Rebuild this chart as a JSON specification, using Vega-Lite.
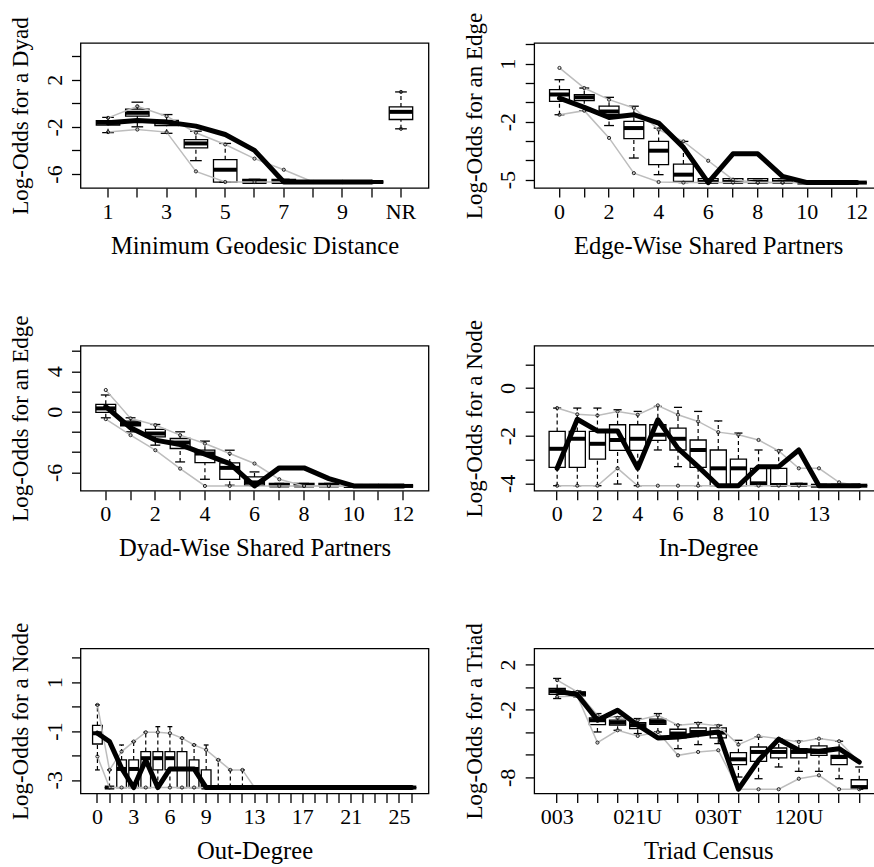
{
"$schema": "https://vega.github.io/schema/vega-lite/v6.json",
"background": "white",
"padding": {"left": 8.5, "top": 11, "right": 0, "bottom": 0},
"config": {
 "font": "Liberation Serif",
 "view": {"stroke": "black", "strokeWidth": 1.3},
 "tick": {"opacity": 1},
 "axis": {"labelFont": "Liberation Serif", "labelFontSize": 22, "labelColor": "black", "titleFont": "Liberation Serif", "titleFontSize": 24, "titleFontWeight": "normal", "titleColor": "black", "tickColor": "black", "tickWidth": 1.3, "tickSize": 9, "domain": false, "grid": false, "labelOverlap": false, "labelBound": false},
 "axisY": {"labelAngle": -90, "labelAlign": "center", "labelBaseline": "alphabetic", "labelPadding": 10.3, "titleAngle": -90, "titleX": -53, "titleBaseline": "alphabetic", "titleFontSize": 23, "tickCount": 50},
 "axisX": {"labelAngle": 0, "labelAlign": "center", "labelBaseline": "alphabetic", "labelPadding": 21, "titleY": 65, "titleBaseline": "alphabetic", "titleFontSize": 24.6}
},
"columns": 2,
"bounds": "flush",
"spacing": {"row": 157.7, "column": 105.7},
"concat": [
{
 "width": 348, "height": 145,
 "data": {"values": [
  {"c":"1","q1":-1.86,"q3":-1.47,"med":-1.66,"lo":-2.5,"hi":-1.2,"bl":-2.45,"bu":-1.24,"obs":-1.66},
  {"c":"2","q1":-1.09,"q3":-0.5,"med":-0.81,"lo":-2.0,"hi":0.09,"bl":-2.23,"bu":-0.25,"obs":-1.47},
  {"c":"3","q1":-1.9,"q3":-1.45,"med":-1.62,"lo":-2.55,"hi":-0.96,"bl":-2.45,"bu":-1.1,"obs":-1.6},
  {"c":"4","q1":-3.78,"q3":-3.08,"med":-3.41,"lo":-4.87,"hi":-2.37,"bl":-5.78,"bu":-2.5,"obs":-1.94},
  {"c":"5","q1":-6.7,"q3":-4.79,"med":-5.64,"lo":-6.7,"hi":-3.41,"bl":-6.68,"bu":-3.5,"obs":-2.65},
  {"c":"6","q1":-6.75,"q3":-6.45,"med":-6.68,"lo":-6.75,"hi":-6.45,"bl":-6.68,"bu":-4.7,"obs":-4.0},
  {"c":"7","q1":-6.75,"q3":-6.45,"med":-6.68,"lo":-6.75,"hi":-6.45,"bl":-6.68,"bu":-5.64,"obs":-6.68},
  {"c":"8","q1":-6.68,"q3":-6.68,"med":-6.68,"lo":-6.68,"hi":-6.68,"bl":-6.68,"bu":-6.68,"obs":-6.68},
  {"c":"9","q1":-6.68,"q3":-6.68,"med":-6.68,"lo":-6.68,"hi":-6.68,"bl":-6.68,"bu":-6.68,"obs":-6.68},
  {"c":"10","q1":-6.68,"q3":-6.68,"med":-6.68,"lo":-6.68,"hi":-6.68,"bl":-6.68,"bu":-6.68,"obs":-6.68},
  {"c":"NR","q1":-1.38,"q3":-0.31,"med":-0.73,"lo":-2.17,"hi":0.96,"bl":-2.17,"bu":0.96,"obs":-0.73}
 ]},
 "encoding": {"x": {"field": "c", "type": "ordinal", "scale": {"domain": ["1","2","3","4","5","6","7","8","9","10","NR"], "paddingInner": 0.2, "paddingOuter": 0.54}, "axis": {"title": "Minimum Geodesic Distance", "labelOverlap": false, "labelExpr": "indexof(['1','3','5','7','9','NR'], datum.label) >= 0 ? datum.label : ''"}}},
 "layer": [
  {"mark": {"type": "bar", "fill": "white", "stroke": "black", "strokeWidth": 1.3}, "encoding": {"y": {"field": "q1", "type": "quantitative", "scale": {"domain": [-7.19, 5.11], "nice": false, "zero": false}, "axis": {"title": "Log-Odds for a Dyad", "labelOverlap": false, "tickCount": 50, "values": [-6,-4,-2,0,2,4], "labelExpr": "indexof([-6,-2,2], datum.value) >= 0 ? '' + datum.value : ''"}}, "y2": {"field": "q3"}}},
  {"mark": {"type": "rule", "color": "black", "strokeWidth": 1.2, "strokeDash": [4,3]}, "encoding": {"y": {"field": "q3", "type": "quantitative"}, "y2": {"field": "hi"}}},
  {"mark": {"type": "rule", "color": "black", "strokeWidth": 1.2, "strokeDash": [4,3]}, "encoding": {"y": {"field": "lo", "type": "quantitative"}, "y2": {"field": "q1"}}},
  {"mark": {"type": "tick", "color": "black", "opacity": 1, "size": 11.7, "thickness": 1.3}, "encoding": {"y": {"field": "hi", "type": "quantitative"}}},
  {"mark": {"type": "tick", "color": "black", "opacity": 1, "size": 11.7, "thickness": 1.3}, "encoding": {"y": {"field": "lo", "type": "quantitative"}}},
  {"mark": {"type": "tick", "color": "black", "opacity": 1, "size": 23.4, "thickness": 4}, "encoding": {"y": {"field": "med", "type": "quantitative"}}},
  {"transform": [{"filter": "datum.c != 'NR'"}], "mark": {"type": "line", "color": "#bdbdbd", "strokeWidth": 1.5}, "encoding": {"y": {"field": "bu", "type": "quantitative"}}},
  {"transform": [{"filter": "datum.c != 'NR'"}], "mark": {"type": "line", "color": "#bdbdbd", "strokeWidth": 1.5}, "encoding": {"y": {"field": "bl", "type": "quantitative"}}},
  {"mark": {"type": "point", "shape": "circle", "size": 10, "filled": false, "color": "#222222", "strokeWidth": 1, "opacity": 1}, "encoding": {"y": {"field": "bu", "type": "quantitative"}}},
  {"mark": {"type": "point", "shape": "circle", "size": 10, "filled": false, "color": "#222222", "strokeWidth": 1, "opacity": 1}, "encoding": {"y": {"field": "bl", "type": "quantitative"}}},
  {"transform": [{"filter": "datum.c != 'NR'"}], "mark": {"type": "line", "color": "black", "strokeWidth": 5, "strokeCap": "round", "strokeJoin": "round"}, "encoding": {"y": {"field": "obs", "type": "quantitative"}}}
 ]
},
{
 "width": 348, "height": 145,
 "data": {"values": [
  {"c":"0","q1":-0.95,"q3":-0.34,"med":-0.6,"lo":-1.64,"hi":0.17,"bl":-1.64,"bu":0.78,"obs":-0.78},
  {"c":"1","q1":-0.91,"q3":-0.6,"med":-0.74,"lo":-1.43,"hi":-0.26,"bl":-1.43,"bu":-0.26,"obs":-1.26},
  {"c":"2","q1":-1.64,"q3":-1.2,"med":-1.47,"lo":-2.2,"hi":-0.74,"bl":-2.84,"bu":-0.86,"obs":-1.78},
  {"c":"3","q1":-2.88,"q3":-1.98,"med":-2.33,"lo":-3.88,"hi":-1.2,"bl":-4.66,"bu":-1.29,"obs":-1.64},
  {"c":"4","q1":-4.22,"q3":-3.02,"med":-3.5,"lo":-4.74,"hi":-2.33,"bl":-5.12,"bu":-2.41,"obs":-2.07},
  {"c":"5","q1":-5.09,"q3":-4.19,"med":-4.74,"lo":-5.15,"hi":-3.02,"bl":-5.15,"bu":-3.02,"obs":-3.33},
  {"c":"6","q1":-5.15,"q3":-4.95,"med":-5.12,"lo":-5.15,"hi":-4.95,"bl":-5.15,"bu":-4.02,"obs":-5.15},
  {"c":"7","q1":-5.15,"q3":-4.95,"med":-5.12,"lo":-5.15,"hi":-4.95,"bl":-5.15,"bu":-5.0,"obs":-3.66},
  {"c":"8","q1":-5.15,"q3":-4.95,"med":-5.12,"lo":-5.15,"hi":-4.95,"bl":-5.15,"bu":-5.15,"obs":-3.66},
  {"c":"9","q1":-5.15,"q3":-4.95,"med":-5.12,"lo":-5.15,"hi":-4.95,"bl":-5.15,"bu":-5.15,"obs":-4.83},
  {"c":"10","q1":-5.15,"q3":-5.15,"med":-5.15,"lo":-5.15,"hi":-5.15,"bl":-5.15,"bu":-5.15,"obs":-5.15},
  {"c":"11","q1":-5.15,"q3":-5.15,"med":-5.15,"lo":-5.15,"hi":-5.15,"bl":-5.15,"bu":-5.15,"obs":-5.15},
  {"c":"12","q1":-5.15,"q3":-5.15,"med":-5.15,"lo":-5.15,"hi":-5.15,"bl":-5.15,"bu":-5.15,"obs":-5.15}
 ]},
 "encoding": {"x": {"field": "c", "type": "ordinal", "scale": {"domain": ["0","1","2","3","4","5","6","7","8","9","10","11","12"], "paddingInner": 0.2, "paddingOuter": 0.62}, "axis": {"title": "Edge-Wise Shared Partners", "labelOverlap": false, "labelExpr": "indexof(['0','2','4','6','8','10','12'], datum.label) >= 0 ? datum.label : ''"}}},
 "layer": [
  {"mark": {"type": "bar", "fill": "white", "stroke": "black", "strokeWidth": 1.3}, "encoding": {"y": {"field": "q1", "type": "quantitative", "scale": {"domain": [-5.43, 2.07], "nice": false, "zero": false}, "axis": {"title": "Log-Odds for an Edge", "labelOverlap": false, "tickCount": 50, "values": [-5,-4,-3,-2,-1,0,1,2], "labelExpr": "indexof([-5,-2,1], datum.value) >= 0 ? '' + datum.value : ''"}}, "y2": {"field": "q3"}}},
  {"mark": {"type": "rule", "color": "black", "strokeWidth": 1.2, "strokeDash": [4,3]}, "encoding": {"y": {"field": "q3", "type": "quantitative"}, "y2": {"field": "hi"}}},
  {"mark": {"type": "rule", "color": "black", "strokeWidth": 1.2, "strokeDash": [4,3]}, "encoding": {"y": {"field": "lo", "type": "quantitative"}, "y2": {"field": "q1"}}},
  {"mark": {"type": "tick", "color": "black", "opacity": 1, "size": 9.9, "thickness": 1.3}, "encoding": {"y": {"field": "hi", "type": "quantitative"}}},
  {"mark": {"type": "tick", "color": "black", "opacity": 1, "size": 9.9, "thickness": 1.3}, "encoding": {"y": {"field": "lo", "type": "quantitative"}}},
  {"mark": {"type": "tick", "color": "black", "opacity": 1, "size": 19.8, "thickness": 4}, "encoding": {"y": {"field": "med", "type": "quantitative"}}},
  {"mark": {"type": "line", "color": "#bdbdbd", "strokeWidth": 1.5}, "encoding": {"y": {"field": "bu", "type": "quantitative"}}},
  {"mark": {"type": "line", "color": "#bdbdbd", "strokeWidth": 1.5}, "encoding": {"y": {"field": "bl", "type": "quantitative"}}},
  {"mark": {"type": "point", "shape": "circle", "size": 10, "filled": false, "color": "#222222", "strokeWidth": 1, "opacity": 1}, "encoding": {"y": {"field": "bu", "type": "quantitative"}}},
  {"mark": {"type": "point", "shape": "circle", "size": 10, "filled": false, "color": "#222222", "strokeWidth": 1, "opacity": 1}, "encoding": {"y": {"field": "bl", "type": "quantitative"}}},
  {"mark": {"type": "line", "color": "black", "strokeWidth": 5, "strokeCap": "round", "strokeJoin": "round"}, "encoding": {"y": {"field": "obs", "type": "quantitative"}}}
 ]
},
{
 "width": 348, "height": 145,
 "data": {"values": [
  {"c":"0","q1":-0.07,"q3":0.73,"med":0.33,"lo":-0.6,"hi":1.66,"bl":-0.73,"bu":2.15,"obs":0.5},
  {"c":"1","q1":-1.39,"q3":-0.93,"med":-1.16,"lo":-1.99,"hi":-0.6,"bl":-2.32,"bu":-0.66,"obs":-1.59},
  {"c":"2","q1":-2.48,"q3":-1.75,"med":-2.15,"lo":-3.31,"hi":-1.26,"bl":-3.81,"bu":-1.32,"obs":-2.81},
  {"c":"3","q1":-3.64,"q3":-2.65,"med":-3.05,"lo":-4.97,"hi":-1.99,"bl":-5.63,"bu":-2.32,"obs":-3.25},
  {"c":"4","q1":-5.03,"q3":-3.81,"med":-4.14,"lo":-6.69,"hi":-2.91,"bl":-7.35,"bu":-3.15,"obs":-4.2},
  {"c":"5","q1":-6.69,"q3":-5.07,"med":-5.56,"lo":-7.28,"hi":-3.81,"bl":-7.35,"bu":-4.14,"obs":-5.13},
  {"c":"6","q1":-7.28,"q3":-6.46,"med":-7.0,"lo":-7.35,"hi":-5.96,"bl":-7.35,"bu":-5.13,"obs":-7.35},
  {"c":"7","q1":-7.35,"q3":-7.1,"med":-7.3,"lo":-7.35,"hi":-7.1,"bl":-7.35,"bu":-6.69,"obs":-5.56},
  {"c":"8","q1":-7.35,"q3":-7.1,"med":-7.3,"lo":-7.35,"hi":-7.1,"bl":-7.35,"bu":-7.35,"obs":-5.56},
  {"c":"9","q1":-7.35,"q3":-7.1,"med":-7.3,"lo":-7.35,"hi":-7.1,"bl":-7.35,"bu":-7.35,"obs":-6.62},
  {"c":"10","q1":-7.35,"q3":-7.35,"med":-7.35,"lo":-7.35,"hi":-7.35,"bl":-7.35,"bu":-7.35,"obs":-7.35},
  {"c":"11","q1":-7.35,"q3":-7.35,"med":-7.35,"lo":-7.35,"hi":-7.35,"bl":-7.35,"bu":-7.35,"obs":-7.35},
  {"c":"12","q1":-7.35,"q3":-7.35,"med":-7.35,"lo":-7.35,"hi":-7.35,"bl":-7.35,"bu":-7.35,"obs":-7.35}
 ]},
 "encoding": {"x": {"field": "c", "type": "ordinal", "scale": {"domain": ["0","1","2","3","4","5","6","7","8","9","10","11","12"], "paddingInner": 0.2, "paddingOuter": 0.62}, "axis": {"title": "Dyad-Wise Shared Partners", "labelOverlap": false, "labelExpr": "indexof(['0','2','4','6','8','10','12'], datum.label) >= 0 ? datum.label : ''"}}},
 "layer": [
  {"mark": {"type": "bar", "fill": "white", "stroke": "black", "strokeWidth": 1.3}, "encoding": {"y": {"field": "q1", "type": "quantitative", "scale": {"domain": [-7.82, 6.54], "nice": false, "zero": false}, "axis": {"title": "Log-Odds for an Edge", "labelOverlap": false, "tickCount": 50, "values": [-6,-4,-2,0,2,4,6], "labelExpr": "indexof([-6,0,4], datum.value) >= 0 ? '' + datum.value : ''"}}, "y2": {"field": "q3"}}},
  {"mark": {"type": "rule", "color": "black", "strokeWidth": 1.2, "strokeDash": [4,3]}, "encoding": {"y": {"field": "q3", "type": "quantitative"}, "y2": {"field": "hi"}}},
  {"mark": {"type": "rule", "color": "black", "strokeWidth": 1.2, "strokeDash": [4,3]}, "encoding": {"y": {"field": "lo", "type": "quantitative"}, "y2": {"field": "q1"}}},
  {"mark": {"type": "tick", "color": "black", "opacity": 1, "size": 9.9, "thickness": 1.3}, "encoding": {"y": {"field": "hi", "type": "quantitative"}}},
  {"mark": {"type": "tick", "color": "black", "opacity": 1, "size": 9.9, "thickness": 1.3}, "encoding": {"y": {"field": "lo", "type": "quantitative"}}},
  {"mark": {"type": "tick", "color": "black", "opacity": 1, "size": 19.8, "thickness": 4}, "encoding": {"y": {"field": "med", "type": "quantitative"}}},
  {"mark": {"type": "line", "color": "#bdbdbd", "strokeWidth": 1.5}, "encoding": {"y": {"field": "bu", "type": "quantitative"}}},
  {"mark": {"type": "line", "color": "#bdbdbd", "strokeWidth": 1.5}, "encoding": {"y": {"field": "bl", "type": "quantitative"}}},
  {"mark": {"type": "point", "shape": "circle", "size": 10, "filled": false, "color": "#222222", "strokeWidth": 1, "opacity": 1}, "encoding": {"y": {"field": "bu", "type": "quantitative"}}},
  {"mark": {"type": "point", "shape": "circle", "size": 10, "filled": false, "color": "#222222", "strokeWidth": 1, "opacity": 1}, "encoding": {"y": {"field": "bl", "type": "quantitative"}}},
  {"mark": {"type": "line", "color": "black", "strokeWidth": 5, "strokeCap": "round", "strokeJoin": "round"}, "encoding": {"y": {"field": "obs", "type": "quantitative"}}}
 ]
},
{
 "width": 348, "height": 145,
 "data": {"values": [
  {"c":"0","q1":-3.33,"q3":-1.82,"med":-2.55,"lo":-4.1,"hi":-0.84,"bl":-4.1,"bu":-0.84,"obs":-3.37},
  {"c":"1","q1":-3.33,"q3":-1.82,"med":-2.13,"lo":-4.1,"hi":-0.84,"bl":-4.1,"bu":-1.1,"obs":-1.31},
  {"c":"2","q1":-2.98,"q3":-1.82,"med":-2.34,"lo":-4.1,"hi":-0.84,"bl":-4.1,"bu":-1.15,"obs":-1.8},
  {"c":"3","q1":-2.62,"q3":-1.54,"med":-2.18,"lo":-4.03,"hi":-0.91,"bl":-3.37,"bu":-0.98,"obs":-1.8},
  {"c":"4","q1":-2.62,"q3":-1.54,"med":-2.13,"lo":-4.1,"hi":-0.98,"bl":-4.1,"bu":-1.12,"obs":-3.37},
  {"c":"5","q1":-2.2,"q3":-1.54,"med":-1.96,"lo":-2.6,"hi":-0.77,"bl":-4.1,"bu":-0.73,"obs":-1.33},
  {"c":"6","q1":-2.6,"q3":-1.68,"med":-2.13,"lo":-3.3,"hi":-0.81,"bl":-4.1,"bu":-1.12,"obs":-2.53},
  {"c":"7","q1":-3.33,"q3":-2.18,"med":-2.6,"lo":-4.1,"hi":-0.98,"bl":-4.1,"bu":-1.4,"obs":-3.3},
  {"c":"8","q1":-4.1,"q3":-2.6,"med":-3.37,"lo":-4.1,"hi":-1.38,"bl":-4.1,"bu":-1.85,"obs":-4.1},
  {"c":"9","q1":-4.1,"q3":-2.98,"med":-3.37,"lo":-4.1,"hi":-1.89,"bl":-4.1,"bu":-1.96,"obs":-4.1},
  {"c":"10","q1":-4.07,"q3":-3.37,"med":-4.0,"lo":-4.1,"hi":-2.6,"bl":-4.1,"bu":-2.18,"obs":-3.3},
  {"c":"11","q1":-4.07,"q3":-3.37,"med":-4.07,"lo":-4.1,"hi":-2.6,"bl":-4.1,"bu":-2.64,"obs":-3.3},
  {"c":"12","q1":-4.1,"q3":-4.0,"med":-4.07,"lo":-4.1,"hi":-4.0,"bl":-4.1,"bu":-3.37,"obs":-2.6},
  {"c":"13","q1":-4.1,"q3":-4.1,"med":-4.1,"lo":-4.1,"hi":-4.1,"bl":-4.1,"bu":-3.37,"obs":-4.1},
  {"c":"14","q1":-4.1,"q3":-4.1,"med":-4.1,"lo":-4.1,"hi":-4.1,"bl":-4.1,"bu":-3.96,"obs":-4.1},
  {"c":"15","q1":-4.1,"q3":-4.1,"med":-4.1,"lo":-4.1,"hi":-4.1,"bl":-4.1,"bu":-4.1,"obs":-4.1}
 ]},
 "encoding": {"x": {"field": "c", "type": "ordinal", "scale": {"domain": ["0","1","2","3","4","5","6","7","8","9","10","11","12","13","14","15"], "paddingInner": 0.2, "paddingOuter": 0.74}, "axis": {"title": "In-Degree", "labelOverlap": false, "labelExpr": "indexof(['0','2','4','6','8','10','13'], datum.label) >= 0 ? datum.label : ''"}}},
 "layer": [
  {"mark": {"type": "bar", "fill": "white", "stroke": "black", "strokeWidth": 1.3}, "encoding": {"y": {"field": "q1", "type": "quantitative", "scale": {"domain": [-4.31, 1.78], "nice": false, "zero": false}, "axis": {"title": "Log-Odds for a Node", "labelOverlap": false, "tickCount": 50, "values": [-4,-3,-2,-1,0,1], "labelExpr": "indexof([-4,-2,0], datum.value) >= 0 ? '' + datum.value : ''"}}, "y2": {"field": "q3"}}},
  {"mark": {"type": "rule", "color": "black", "strokeWidth": 1.2, "strokeDash": [4,3]}, "encoding": {"y": {"field": "q3", "type": "quantitative"}, "y2": {"field": "hi"}}},
  {"mark": {"type": "rule", "color": "black", "strokeWidth": 1.2, "strokeDash": [4,3]}, "encoding": {"y": {"field": "lo", "type": "quantitative"}, "y2": {"field": "q1"}}},
  {"mark": {"type": "tick", "color": "black", "opacity": 1, "size": 8.1, "thickness": 1.3}, "encoding": {"y": {"field": "hi", "type": "quantitative"}}},
  {"mark": {"type": "tick", "color": "black", "opacity": 1, "size": 8.1, "thickness": 1.3}, "encoding": {"y": {"field": "lo", "type": "quantitative"}}},
  {"mark": {"type": "tick", "color": "black", "opacity": 1, "size": 16.1, "thickness": 4}, "encoding": {"y": {"field": "med", "type": "quantitative"}}},
  {"mark": {"type": "line", "color": "#bdbdbd", "strokeWidth": 1.5}, "encoding": {"y": {"field": "bu", "type": "quantitative"}}},
  {"mark": {"type": "line", "color": "#bdbdbd", "strokeWidth": 1.5}, "encoding": {"y": {"field": "bl", "type": "quantitative"}}},
  {"mark": {"type": "point", "shape": "circle", "size": 10, "filled": false, "color": "#222222", "strokeWidth": 1, "opacity": 1}, "encoding": {"y": {"field": "bu", "type": "quantitative"}}},
  {"mark": {"type": "point", "shape": "circle", "size": 10, "filled": false, "color": "#222222", "strokeWidth": 1, "opacity": 1}, "encoding": {"y": {"field": "bl", "type": "quantitative"}}},
  {"mark": {"type": "line", "color": "black", "strokeWidth": 5, "strokeCap": "round", "strokeJoin": "round"}, "encoding": {"y": {"field": "obs", "type": "quantitative"}}}
 ]
},
{
 "width": 348, "height": 145,
 "data": {"values": [
  {"c":"0","q1":-1.53,"q3":-0.77,"med":-1.09,"lo":-2.59,"hi":0.07,"bl":-2.04,"bu":0.07,"obs":-1.09},
  {"c":"1","q1":-3.31,"q3":-3.31,"med":-3.31,"lo":-3.31,"hi":-2.59,"bl":-3.31,"bu":-2.59,"obs":-1.43},
  {"c":"2","q1":-3.31,"q3":-2.18,"med":-2.55,"lo":-3.31,"hi":-1.57,"bl":-3.31,"bu":-1.84,"obs":-2.52},
  {"c":"3","q1":-3.31,"q3":-2.18,"med":-2.55,"lo":-3.31,"hi":-1.43,"bl":-3.31,"bu":-1.43,"obs":-3.31},
  {"c":"4","q1":-3.31,"q3":-1.84,"med":-2.11,"lo":-3.31,"hi":-1.05,"bl":-3.31,"bu":-1.05,"obs":-2.18},
  {"c":"5","q1":-2.59,"q3":-1.84,"med":-2.11,"lo":-3.31,"hi":-0.82,"bl":-3.31,"bu":-1.05,"obs":-3.31},
  {"c":"6","q1":-2.59,"q3":-1.84,"med":-2.11,"lo":-3.31,"hi":-0.82,"bl":-3.31,"bu":-1.09,"obs":-2.55},
  {"c":"7","q1":-3.31,"q3":-1.84,"med":-2.55,"lo":-3.31,"hi":-1.29,"bl":-3.31,"bu":-1.29,"obs":-2.55},
  {"c":"8","q1":-3.31,"q3":-2.18,"med":-2.55,"lo":-3.31,"hi":-1.57,"bl":-3.31,"bu":-1.57,"obs":-2.55},
  {"c":"9","q1":-3.31,"q3":-2.59,"med":-3.31,"lo":-3.31,"hi":-1.57,"bl":-3.31,"bu":-1.77,"obs":-3.31},
  {"c":"10","q1":-3.31,"q3":-3.31,"med":-3.31,"lo":-3.31,"hi":-2.18,"bl":-3.31,"bu":-2.18,"obs":-3.31},
  {"c":"11","q1":-3.31,"q3":-3.31,"med":-3.31,"lo":-3.31,"hi":-2.59,"bl":-3.31,"bu":-2.59,"obs":-3.31},
  {"c":"12","q1":-3.31,"q3":-3.31,"med":-3.31,"lo":-3.31,"hi":-2.59,"bl":-3.31,"bu":-2.59,"obs":-3.31},
  {"c":"13","q1":-3.31,"q3":-3.31,"med":-3.31,"lo":-3.31,"hi":-3.31,"bl":-3.31,"bu":-3.31,"obs":-3.31},
  {"c":"14","q1":-3.31,"q3":-3.31,"med":-3.31,"lo":-3.31,"hi":-3.31,"bl":-3.31,"bu":-3.31,"obs":-3.31},
  {"c":"15","q1":-3.31,"q3":-3.31,"med":-3.31,"lo":-3.31,"hi":-3.31,"bl":-3.31,"bu":-3.31,"obs":-3.31},
  {"c":"16","q1":-3.31,"q3":-3.31,"med":-3.31,"lo":-3.31,"hi":-3.31,"bl":-3.31,"bu":-3.31,"obs":-3.31},
  {"c":"17","q1":-3.31,"q3":-3.31,"med":-3.31,"lo":-3.31,"hi":-3.31,"bl":-3.31,"bu":-3.31,"obs":-3.31},
  {"c":"18","q1":-3.31,"q3":-3.31,"med":-3.31,"lo":-3.31,"hi":-3.31,"bl":-3.31,"bu":-3.31,"obs":-3.31},
  {"c":"19","q1":-3.31,"q3":-3.31,"med":-3.31,"lo":-3.31,"hi":-3.31,"bl":-3.31,"bu":-3.31,"obs":-3.31},
  {"c":"20","q1":-3.31,"q3":-3.31,"med":-3.31,"lo":-3.31,"hi":-3.31,"bl":-3.31,"bu":-3.31,"obs":-3.31},
  {"c":"21","q1":-3.31,"q3":-3.31,"med":-3.31,"lo":-3.31,"hi":-3.31,"bl":-3.31,"bu":-3.31,"obs":-3.31},
  {"c":"22","q1":-3.31,"q3":-3.31,"med":-3.31,"lo":-3.31,"hi":-3.31,"bl":-3.31,"bu":-3.31,"obs":-3.31},
  {"c":"23","q1":-3.31,"q3":-3.31,"med":-3.31,"lo":-3.31,"hi":-3.31,"bl":-3.31,"bu":-3.31,"obs":-3.31},
  {"c":"24","q1":-3.31,"q3":-3.31,"med":-3.31,"lo":-3.31,"hi":-3.31,"bl":-3.31,"bu":-3.31,"obs":-3.31},
  {"c":"25","q1":-3.31,"q3":-3.31,"med":-3.31,"lo":-3.31,"hi":-3.31,"bl":-3.31,"bu":-3.31,"obs":-3.31},
  {"c":"26","q1":-3.31,"q3":-3.31,"med":-3.31,"lo":-3.31,"hi":-3.31,"bl":-3.31,"bu":-3.31,"obs":-3.31}
 ]},
 "encoding": {"x": {"field": "c", "type": "ordinal", "scale": {"domain": ["0","1","2","3","4","5","6","7","8","9","10","11","12","13","14","15","16","17","18","19","20","21","22","23","24","25","26"], "paddingInner": 0.2, "paddingOuter": 1.18}, "axis": {"title": "Out-Degree", "labelOverlap": false, "labelExpr": "indexof(['0','3','6','9','13','17','21','25'], datum.label) >= 0 ? datum.label : ''"}}},
 "layer": [
  {"mark": {"type": "bar", "fill": "white", "stroke": "black", "strokeWidth": 1.3}, "encoding": {"y": {"field": "q1", "type": "quantitative", "scale": {"domain": [-3.55, 2.38], "nice": false, "zero": false}, "axis": {"title": "Log-Odds for a Node", "labelOverlap": false, "tickCount": 50, "values": [-3,-2,-1,0,1,2], "labelExpr": "indexof([-3,-1,1], datum.value) >= 0 ? '' + datum.value : ''"}}, "y2": {"field": "q3"}}},
  {"mark": {"type": "rule", "color": "black", "strokeWidth": 1.2, "strokeDash": [4,3]}, "encoding": {"y": {"field": "q3", "type": "quantitative"}, "y2": {"field": "hi"}}},
  {"mark": {"type": "rule", "color": "black", "strokeWidth": 1.2, "strokeDash": [4,3]}, "encoding": {"y": {"field": "lo", "type": "quantitative"}, "y2": {"field": "q1"}}},
  {"mark": {"type": "tick", "color": "black", "opacity": 1, "size": 4.8, "thickness": 1.3}, "encoding": {"y": {"field": "hi", "type": "quantitative"}}},
  {"mark": {"type": "tick", "color": "black", "opacity": 1, "size": 4.8, "thickness": 1.3}, "encoding": {"y": {"field": "lo", "type": "quantitative"}}},
  {"mark": {"type": "tick", "color": "black", "opacity": 1, "size": 9.5, "thickness": 4}, "encoding": {"y": {"field": "med", "type": "quantitative"}}},
  {"mark": {"type": "line", "color": "#bdbdbd", "strokeWidth": 1.5}, "encoding": {"y": {"field": "bu", "type": "quantitative"}}},
  {"mark": {"type": "line", "color": "#bdbdbd", "strokeWidth": 1.5}, "encoding": {"y": {"field": "bl", "type": "quantitative"}}},
  {"mark": {"type": "point", "shape": "circle", "size": 10, "filled": false, "color": "#222222", "strokeWidth": 1, "opacity": 1}, "encoding": {"y": {"field": "bu", "type": "quantitative"}}},
  {"mark": {"type": "point", "shape": "circle", "size": 10, "filled": false, "color": "#222222", "strokeWidth": 1, "opacity": 1}, "encoding": {"y": {"field": "bl", "type": "quantitative"}}},
  {"mark": {"type": "line", "color": "black", "strokeWidth": 5, "strokeCap": "round", "strokeJoin": "round"}, "encoding": {"y": {"field": "obs", "type": "quantitative"}}}
 ]
},
{
 "width": 348, "height": 145,
 "data": {"values": [
  {"c":"003","q1":-0.66,"q3":-0.13,"med":-0.37,"lo":-1.02,"hi":0.76,"bl":-0.87,"bu":0.61,"obs":-0.37},
  {"c":"012","q1":-0.78,"q3":-0.43,"med":-0.57,"lo":-0.87,"hi":-0.35,"bl":-0.8,"bu":-0.43,"obs":-0.66},
  {"c":"102","q1":-3.33,"q3":-2.73,"med":-2.94,"lo":-3.98,"hi":-2.35,"bl":-4.92,"bu":-2.5,"obs":-2.94},
  {"c":"021D","q1":-3.38,"q3":-2.94,"med":-3.15,"lo":-3.83,"hi":-2.64,"bl":-3.83,"bu":-2.73,"obs":-2.05},
  {"c":"021U","q1":-3.68,"q3":-3.15,"med":-3.38,"lo":-4.12,"hi":-2.79,"bl":-4.33,"bu":-2.94,"obs":-3.38},
  {"c":"021C","q1":-3.3,"q3":-2.85,"med":-3.09,"lo":-3.98,"hi":-2.35,"bl":-3.98,"bu":-2.5,"obs":-4.51},
  {"c":"111D","q1":-4.51,"q3":-3.74,"med":-4.12,"lo":-5.46,"hi":-3.33,"bl":-6.05,"bu":-3.38,"obs":-4.42},
  {"c":"111U","q1":-4.27,"q3":-3.62,"med":-3.98,"lo":-5.1,"hi":-3.15,"bl":-5.75,"bu":-3.24,"obs":-4.21},
  {"c":"030T","q1":-4.51,"q3":-3.62,"med":-4.04,"lo":-5.01,"hi":-3.38,"bl":-5.6,"bu":-3.44,"obs":-3.98},
  {"c":"030C","q1":-6.88,"q3":-5.81,"med":-6.4,"lo":-7.97,"hi":-4.72,"bl":-9.05,"bu":-5.1,"obs":-9.05},
  {"c":"201","q1":-6.58,"q3":-5.31,"med":-5.75,"lo":-8.12,"hi":-4.42,"bl":-9.05,"bu":-4.33,"obs":-6.49},
  {"c":"120D","q1":-6.28,"q3":-5.4,"med":-5.75,"lo":-7.08,"hi":-4.57,"bl":-9.05,"bu":-4.57,"obs":-4.63},
  {"c":"120U","q1":-6.28,"q3":-5.46,"med":-5.75,"lo":-7.47,"hi":-4.8,"bl":-8.12,"bu":-4.86,"obs":-5.6},
  {"c":"120C","q1":-6.05,"q3":-5.22,"med":-5.75,"lo":-7.47,"hi":-4.57,"bl":-7.82,"bu":-4.57,"obs":-5.69},
  {"c":"210","q1":-6.88,"q3":-6.05,"med":-6.2,"lo":-8.12,"hi":-4.8,"bl":-9.05,"bu":-4.8,"obs":-5.46},
  {"c":"300","q1":-9.0,"q3":-8.21,"med":-8.86,"lo":-9.05,"hi":-7.08,"bl":-9.05,"bu":-6.64,"obs":-6.64}
 ]},
 "encoding": {"x": {"field": "c", "type": "ordinal", "scale": {"domain": ["003","012","102","021D","021U","021C","111D","111U","030T","030C","201","120D","120U","120C","210","300"], "paddingInner": 0.2, "paddingOuter": 0.74}, "axis": {"title": "Triad Census", "labelOverlap": false, "labelExpr": "indexof(['003','021U','030T','120U'], datum.label) >= 0 ? datum.label : ''"}}},
 "layer": [
  {"mark": {"type": "bar", "fill": "white", "stroke": "black", "strokeWidth": 1.3}, "encoding": {"y": {"field": "q1", "type": "quantitative", "scale": {"domain": [-9.42, 3.42], "nice": false, "zero": false}, "axis": {"title": "Log-Odds for a Triad", "labelOverlap": false, "tickCount": 50, "values": [-8,-6,-4,-2,0,2], "labelExpr": "indexof([-8,-2,2], datum.value) >= 0 ? '' + datum.value : ''"}}, "y2": {"field": "q3"}}},
  {"mark": {"type": "rule", "color": "black", "strokeWidth": 1.2, "strokeDash": [4,3]}, "encoding": {"y": {"field": "q3", "type": "quantitative"}, "y2": {"field": "hi"}}},
  {"mark": {"type": "rule", "color": "black", "strokeWidth": 1.2, "strokeDash": [4,3]}, "encoding": {"y": {"field": "lo", "type": "quantitative"}, "y2": {"field": "q1"}}},
  {"mark": {"type": "tick", "color": "black", "opacity": 1, "size": 8.1, "thickness": 1.3}, "encoding": {"y": {"field": "hi", "type": "quantitative"}}},
  {"mark": {"type": "tick", "color": "black", "opacity": 1, "size": 8.1, "thickness": 1.3}, "encoding": {"y": {"field": "lo", "type": "quantitative"}}},
  {"mark": {"type": "tick", "color": "black", "opacity": 1, "size": 16.1, "thickness": 4}, "encoding": {"y": {"field": "med", "type": "quantitative"}}},
  {"mark": {"type": "line", "color": "#bdbdbd", "strokeWidth": 1.5}, "encoding": {"y": {"field": "bu", "type": "quantitative"}}},
  {"mark": {"type": "line", "color": "#bdbdbd", "strokeWidth": 1.5}, "encoding": {"y": {"field": "bl", "type": "quantitative"}}},
  {"mark": {"type": "point", "shape": "circle", "size": 10, "filled": false, "color": "#222222", "strokeWidth": 1, "opacity": 1}, "encoding": {"y": {"field": "bu", "type": "quantitative"}}},
  {"mark": {"type": "point", "shape": "circle", "size": 10, "filled": false, "color": "#222222", "strokeWidth": 1, "opacity": 1}, "encoding": {"y": {"field": "bl", "type": "quantitative"}}},
  {"mark": {"type": "line", "color": "black", "strokeWidth": 5, "strokeCap": "round", "strokeJoin": "round"}, "encoding": {"y": {"field": "obs", "type": "quantitative"}}}
 ]
}
]
}
